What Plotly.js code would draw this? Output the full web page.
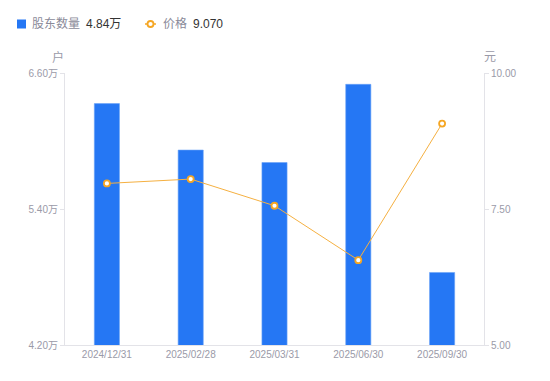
<!DOCTYPE html>
<html><head><meta charset="utf-8">
<script src="https://cdn.plot.ly/plotly-3.0.1.min.js"></script>
<style>html,body{margin:0;padding:0;background:#fff}#c{width:550px;height:381px}</style>
</head><body><div id="c"></div>
<script>
const dates = ['2024/12/31','2025/02/28','2025/03/31','2025/06/30','2025/09/30'];
const holders = [6.33, 5.92, 5.81, 6.50, 4.84];   // 万户
const prices = [7.97, 8.05, 7.56, 6.56, 9.07];    // 元
const holderName = '股东数量';
const priceName = '价格';
const leftTicks = [4.2, 5.4, 6.6];
const rightTicks = [5, 7.5, 10];

const FONT = 'Liberation Sans, Arial, "Noto Sans CJK SC", sans-serif';
const lastH = holders[holders.length-1].toFixed(2) + '万';
const lastP = prices[prices.length-1].toFixed(3);

const L = 65, R = 66, T = 73, B = 36, W = 550, H = 381;
const pw = W - L - R, ph = H - T - B;
const px = x => (x - L) / pw;
const py = y => (H - B - y) / ph;

const BLUE = '#2577F4', ORANGE = '#F5A623', GREY = '#9a9aa8';

const traces = [
  {type:'bar', x:dates, y:holders, name:holderName,
   marker:{color:BLUE, line:{color:'#6aa3f7', width:0.6}}, width:0.3, yaxis:'y', hoverinfo:'none'},
  {type:'scatter', mode:'lines+markers', x:dates, y:prices, name:priceName,
   line:{color:'#F5B041', width:1}, marker:{size:6, color:'#fff', line:{color:ORANGE, width:1.8}}, yaxis:'y2', hoverinfo:'none'}
];

const ann = (text, x, y, opts) => Object.assign({text, xref:'paper', yref:'paper', x:px(x), y:py(y),
  xanchor:'left', yanchor:'middle', showarrow:false, font:{size:12, color:'#8a8a99', family:FONT}}, opts||{});

const layout = {
  width:W, height:H,
  margin:{l:L, r:R, t:T, b:B, autoexpand:false},
  paper_bgcolor:'#fff', plot_bgcolor:'#fff',
  font:{family:FONT, size:10, color:GREY},
  showlegend:false,
  xaxis:{type:'category', showline:true, linecolor:'#e3e3e8', linewidth:1, ticks:'', showgrid:false,
         tickfont:{size:10, color:GREY}, zeroline:false},
  yaxis:{range:[4.2,6.6], tickvals:leftTicks, ticktext:leftTicks.map(v => v.toFixed(2) + '万'),
         showline:true, linecolor:'#e3e3e8', ticks:'outside', ticklen:4, tickcolor:'#e3e3e8',
         showgrid:false, zeroline:false, tickfont:{size:10, color:GREY}},
  yaxis2:{range:[5,10], tickvals:rightTicks, ticktext:rightTicks.map(v => v.toFixed(2)), overlaying:'y', side:'right',
          showline:true, linecolor:'#e3e3e8', ticks:'outside', ticklen:4, tickcolor:'#e3e3e8',
          showgrid:false, zeroline:false, tickfont:{size:10, color:GREY}},
  shapes:[
    {type:'rect', xref:'paper', yref:'paper', x0:px(17), x1:px(26), y0:py(19.5), y1:py(28.5),
     fillcolor:BLUE, line:{width:0}},
    {type:'line', xref:'paper', yref:'paper', x0:px(145), x1:px(156), y0:py(24), y1:py(24),
     line:{color:ORANGE, width:1.5}},
    {type:'circle', xref:'paper', yref:'paper', x0:px(147.5), x1:px(153.5), y0:py(21), y1:py(27),
     fillcolor:'#fff', line:{color:ORANGE, width:1.8}}
  ],
  annotations:[
    ann(holderName, 30, 24),
    ann(lastH, 84, 24, {font:{size:12, color:'#333', family:FONT}}),
    ann(priceName, 161, 24),
    ann(lastP, 191, 24, {font:{size:12, color:'#333', family:FONT}}),
    ann('户', 58, 57, {xanchor:'center', font:{size:12, color:GREY, family:FONT}}),
    ann('元', 490, 57, {xanchor:'center', font:{size:12, color:GREY, family:FONT}})
  ]
};
Plotly.newPlot('c', traces, layout, {displayModeBar:false, staticPlot:true});
</script></body></html>
